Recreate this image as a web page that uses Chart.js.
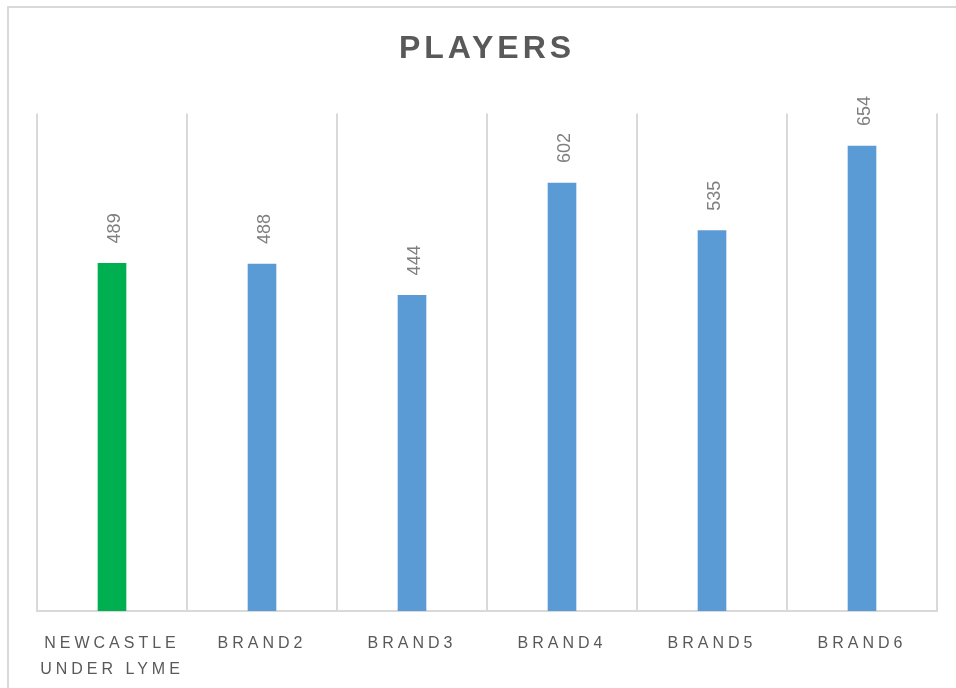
<!DOCTYPE html>
<html>
<head>
<meta charset="utf-8">
<script src="https://cdn.jsdelivr.net/npm/chart.js@4"></script>
<style>
  html, body { margin: 0; padding: 0; background: #fff; overflow: hidden; }
  #wrap { position: relative; width: 956px; height: 688px; }
  #frame {
    position: absolute; left: 7px; top: 6px; width: 1000px; height: 1000px;
    border: 2px solid #d9d9d9; box-sizing: border-box;
  }
  #chart { position: absolute; left: 0; top: 0; }
</style>
</head>
<body>
<div id="wrap">
  <div id="frame"></div>
  <canvas id="chart" width="956" height="688"></canvas>
</div>
<script>
// Chart values
const categories = [['NEWCASTLE', 'UNDER LYME'], 'BRAND2', 'BRAND3', 'BRAND4', 'BRAND5', 'BRAND6'];
const players = [489, 488, 444, 602, 535, 654];
const barColors = ['#00b050', '#5b9bd5', '#5b9bd5', '#5b9bd5', '#5b9bd5', '#5b9bd5'];

const FONT = "'Liberation Sans', 'DejaVu Sans', sans-serif";

// letter spacing for title + axis labels (Chart.js has no option for it)
const spacingPlugin = {
  id: 'spacing',
  beforeDraw(chart) {
    chart.ctx.letterSpacing = '4px';
  },
  beforeDatasetsDraw(chart) {
    chart.ctx.letterSpacing = '0px';
  }
};

// rotated value labels above each bar
const valueLabels = {
  id: 'valueLabels',
  afterDatasetsDraw(chart) {
    const ctx = chart.ctx;
    const meta = chart.getDatasetMeta(0);
    ctx.save();
    ctx.letterSpacing = '0px';
    ctx.fillStyle = '#7f7f7f';
    ctx.font = '18px ' + FONT;
    ctx.textAlign = 'left';
    ctx.textBaseline = 'middle';
    meta.data.forEach((bar, i) => {
      ctx.save();
      ctx.translate(bar.x + 3, bar.y - 20);
      ctx.rotate(-Math.PI / 2);
      ctx.fillText(String(players[i]), 0, 0);
      ctx.restore();
    });
    ctx.restore();
  }
};

new Chart(document.getElementById('chart'), {
  type: 'bar',
  data: {
    labels: categories,
    datasets: [{
      label: 'Players',
      data: players,
      backgroundColor: barColors,
      barThickness: 28
    }]
  },
  options: {
    responsive: false,
    animation: false,
    layout: { padding: { left: 37, right: 19, top: 0, bottom: 0 } },
    plugins: {
      legend: { display: false },
      tooltip: { enabled: false },
      title: {
        display: true,
        text: 'PLAYERS',
        fullSize: false,
        color: '#595959',
        font: { family: FONT, size: 32, weight: 'bold', lineHeight: 1.2 },
        padding: { top: 30, bottom: 45 }
      }
    },
    scales: {
      x: {
        grid: { color: '#d9d9d9', lineWidth: 2, drawTicks: false },
        border: { color: '#d9d9d9', width: 2 },
        ticks: {
          color: '#595959',
          font: { family: FONT, size: 16, lineHeight: 1.6 },
          padding: 20,
          maxRotation: 0,
          autoSkip: false
        },
        afterFit: (scale) => { scale.height = 77; }
      },
      y: {
        display: false,
        min: 0,
        max: 700
      }
    }
  },
  plugins: [spacingPlugin, valueLabels]
});
</script>
</body>
</html>
